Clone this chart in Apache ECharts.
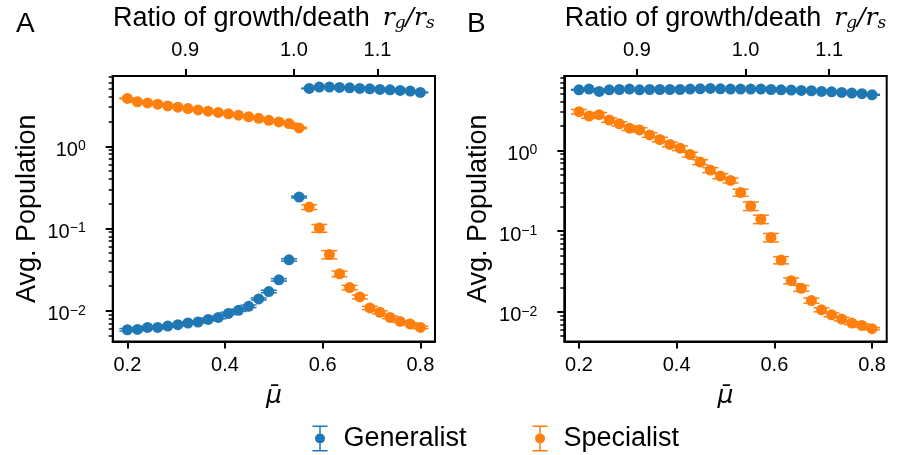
<!DOCTYPE html>
<html>
<head>
<meta charset="utf-8">
<script src="https://cdn.jsdelivr.net/npm/echarts@6/dist/echarts.min.js"></script>
<style>
  html, body { margin: 0; padding: 0; background: #fff; }
  #chart { width: 902px; height: 455px; }
</style>
</head>
<body>
<div id="chart"></div>
<script>
// Mean mutation rate values (bottom axis)
const mu = [0.2, 0.2207, 0.2414, 0.2621, 0.2828, 0.3034, 0.3241, 0.3448, 0.3655, 0.3862,
            0.4069, 0.4276, 0.4483, 0.4690, 0.4897, 0.5103, 0.5310, 0.5517, 0.5724, 0.5931,
            0.6138, 0.6345, 0.6552, 0.6759, 0.6966, 0.7172, 0.7379, 0.7586, 0.7793, 0.8];

// Panel A: average populations and their errors
const genA = [0.00586, 0.00592, 0.00625, 0.00625, 0.0065, 0.00675, 0.00708, 0.00728, 0.00783, 0.00828,
              0.00927, 0.0101, 0.0113, 0.0139, 0.0171, 0.0237, 0.0415, 0.241, 5.06, 5.25,
              5.25, 5.20, 5.14, 5.06, 5.00, 4.91, 4.86, 4.78, 4.69, 4.52];
const genAErr = [0.0002, 0.0002, 0.0002, 0.0002, 0.0002, 0.0002, 0.0002, 0.0002, 0.0003, 0.0003,
                 0.0003, 0.0003, 0.0004, 0.0004, 0.0006, 0.0008, 0.0014, 0.006, 0.05, 0.05,
                 0.05, 0.05, 0.05, 0.05, 0.05, 0.05, 0.05, 0.05, 0.05, 0.05];
const specA = [3.82, 3.47, 3.37, 3.25, 3.10, 2.99, 2.88, 2.77, 2.67, 2.58,
               2.48, 2.39, 2.28, 2.19, 2.07, 1.98, 1.89, 1.67, 0.182, 0.101,
               0.0482, 0.0281, 0.0191, 0.0147, 0.0108, 0.00955, 0.00828, 0.00741, 0.00688, 0.00625];
const specAErr = [0.04, 0.03, 0.03, 0.03, 0.03, 0.03, 0.03, 0.03, 0.03, 0.03,
                  0.03, 0.03, 0.03, 0.03, 0.03, 0.03, 0.03, 0.03, 0.012, 0.011,
                  0.0055, 0.0022, 0.0012, 0.0008, 0.0005, 0.0004, 0.0003, 0.0002, 0.0002, 0.0002];

// Panel B: average populations and their errors
const genB = [5.66, 5.78, 5.40, 5.66, 5.71, 5.78, 5.66, 5.71, 5.71, 5.71,
              5.71, 5.78, 5.83, 5.88, 5.83, 5.78, 5.78, 5.78, 5.78, 5.71,
              5.66, 5.61, 5.56, 5.51, 5.40, 5.35, 5.25, 5.15, 5.06, 4.91];
const genBErr = [0.06, 0.06, 0.06, 0.06, 0.06, 0.06, 0.06, 0.06, 0.06, 0.06,
                 0.06, 0.06, 0.06, 0.06, 0.06, 0.06, 0.06, 0.06, 0.06, 0.06,
                 0.06, 0.06, 0.06, 0.06, 0.06, 0.06, 0.06, 0.06, 0.06, 0.06];
const specB = [3.03, 2.68, 2.78, 2.39, 2.14, 1.89, 1.80, 1.56, 1.37, 1.19,
               1.07, 0.892, 0.718, 0.572, 0.482, 0.426, 0.301, 0.205, 0.141, 0.0836,
               0.0438, 0.0243, 0.0196, 0.0138, 0.0106, 0.00919, 0.00813, 0.00725, 0.00677, 0.00617];
const specBErr = [0.2, 0.17, 0.18, 0.15, 0.13, 0.12, 0.11, 0.1, 0.09, 0.08,
                  0.07, 0.06, 0.05, 0.04, 0.035, 0.03, 0.03, 0.025, 0.017, 0.01,
                  0.0045, 0.002, 0.0016, 0.001, 0.0006, 0.0005, 0.0004, 0.0003, 0.0003, 0.0002];

// Tick labels
const bottomTicks = [0.2, 0.4, 0.6, 0.8];
const ratioTickLabels = ['0.9', '1.0', '1.1'];
const ratioTickAtMu = [0.3186, 0.5410, 0.7122];   // where each growth/death ratio falls on the mu axis
const decadeTicks = [-2, -1, 0];                   // log10 of 1e-2, 1e-1, 1e0

const BLUE = '#1f77b4';
const ORANGE = '#ff7f0e';
const FONT = '"Liberation Sans", Arial, Helvetica, sans-serif';

const chart = echarts.init(document.getElementById('chart'), null, { renderer: 'canvas' });

// log-scale y is drawn on a value axis holding log10 of the population
const lg = v => Math.log10(v);

function minorTicks(lo, hi) {
  const out = [];
  for (let n = -4; n <= 1; n++) {
    for (let k = 2; k <= 9; k++) {
      const t = n + Math.log10(k);
      if (t >= lo && t <= hi) out.push(t);
    }
  }
  return out;
}

function scatterData(vals) { return mu.map((m, i) => [m, lg(vals[i])]); }
function errData(vals, errs) { return mu.map((m, i) => [m, lg(vals[i] - errs[i]), lg(vals[i] + errs[i])]); }

function errRender(color) {
  return function (params, api) {
    const x = api.value(0);
    const lo = api.coord([x, api.value(1)]);
    const hi = api.coord([x, api.value(2)]);
    const half = 8;
    const style = { stroke: color, lineWidth: 1.5 };
    return {
      type: 'group',
      children: [
        { type: 'line', shape: { x1: lo[0], y1: lo[1], x2: hi[0], y2: hi[1] }, style },
        { type: 'line', shape: { x1: lo[0] - half, y1: lo[1], x2: lo[0] + half, y2: lo[1] }, style },
        { type: 'line', shape: { x1: hi[0] - half, y1: hi[1], x2: hi[0] + half, y2: hi[1] }, style }
      ]
    };
  };
}

const grids = [
  { left: 112.7, top: 75.5, width: 322.3, height: 266, yMin: -2.375, yMax: 0.855 },
  { left: 564.3, top: 75.5, width: 322.4, height: 266, yMin: -2.368, yMax: 0.924 }
];

const axisLineStyle = { color: '#000', width: 2 };
const tickLabelStyle = { color: '#000', fontSize: 20, fontFamily: FONT };
const legendIcon = 'path://M0 0H15V1.5H0Z M6.75 0H8.25V26H6.75Z M0 24.5H15V26H0Z M2.5 13A5 5 0 1 1 12.5 13A5 5 0 1 1 2.5 13Z';

const option = {
  animation: false,
  backgroundColor: '#fff',
  title: [
    { text: 'A', left: 11, top: 5, textStyle: { fontSize: 28, fontWeight: 'normal', color: '#000', fontFamily: FONT } },
    { text: 'B', left: 462, top: 5, textStyle: { fontSize: 28, fontWeight: 'normal', color: '#000', fontFamily: FONT } }
  ],
  grid: grids.map(g => ({ left: g.left, top: g.top, width: g.width, height: g.height,
                          show: true, borderColor: '#000', borderWidth: 2, backgroundColor: 'transparent' })),
  legend: {
    left: 307.5, top: 420,
    itemWidth: 15, itemHeight: 26, itemGap: 66,
    selectedMode: false,
    textStyle: { color: '#000', fontSize: 27, fontFamily: FONT, padding: [0, 0, 0, 11] },
    data: [
      { name: 'Generalist', icon: legendIcon },
      { name: 'Specialist', icon: legendIcon }
    ]
  },
  xAxis: [],
  yAxis: [],
  series: []
};

grids.forEach((g, gi) => {
  // bottom mu axis
  option.xAxis.push({
    type: 'value', gridIndex: gi, position: 'bottom', min: 0.17, max: 0.83,
    name: 'μ̄', nameLocation: 'middle', nameGap: 42,
    nameTextStyle: { color: '#000', fontSize: 25, fontStyle: 'italic', fontFamily: '"DejaVu Sans", sans-serif' },
    axisLine: { show: true, onZero: false, lineStyle: axisLineStyle },
    axisTick: { show: true, length: 7, lineStyle: { color: '#000', width: 2 }, customValues: bottomTicks },
    axisLabel: { show: true, margin: 14, customValues: bottomTicks, formatter: v => v.toFixed(1), ...tickLabelStyle },
    splitLine: { show: false }
  });
  // top growth/death ratio axis
  option.xAxis.push({
    type: 'value', gridIndex: gi, position: 'top', min: 0.17, max: 0.83,
    name: '{t|Ratio of growth/death}{sp| }{m|r}{sub|g}{m|/r}{sub|s}',
    nameLocation: 'middle', nameGap: 44,
    nameTextStyle: {
      rich: {
        t: { fontSize: 27, color: '#000', fontFamily: FONT },
        sp: { fontSize: 27, width: 13 },
        m: { fontSize: 25, color: '#000', fontStyle: 'italic', fontFamily: '"DejaVu Serif", "Liberation Serif", serif' },
        sub: { fontSize: 17, color: '#000', fontStyle: 'italic', fontFamily: '"DejaVu Serif", "Liberation Serif", serif', padding: [10, 0, 0, 0] }
      }
    },
    axisLine: { show: true, onZero: false, lineStyle: axisLineStyle },
    axisTick: { show: true, length: 7, lineStyle: { color: '#000', width: 2 }, customValues: ratioTickAtMu },
    axisLabel: { show: true, margin: 16, customValues: ratioTickAtMu,
                 formatter: v => ratioTickLabels[ratioTickAtMu.indexOf(v)], ...tickLabelStyle },
    splitLine: { show: false }
  });
  // main log axis (decades)
  option.yAxis.push({
    type: 'value', gridIndex: gi, position: 'left', min: g.yMin, max: g.yMax,
    name: 'Avg. Population', nameLocation: 'middle', nameGap: 72, nameRotate: 90,
    nameTextStyle: { color: '#000', fontSize: 27, fontFamily: FONT },
    axisLine: { show: true, onZero: false, lineStyle: axisLineStyle },
    axisTick: { show: true, length: 7, lineStyle: { color: '#000', width: 2 }, customValues: decadeTicks },
    axisLabel: {
      show: true, margin: 27, customValues: decadeTicks,
      formatter: v => '{b|10}{s|' + (v === 0 ? '0' : '\u2212' + (-v)) + '}',
      rich: {
        b: { fontSize: 20, lineHeight: 22, padding: [8, 0, 0, 0], color: '#000', fontFamily: FONT },
        s: { fontSize: 14, lineHeight: 14, color: '#000', fontFamily: FONT }
      }
    },
    splitLine: { show: false }
  });
  // minor log ticks
  option.yAxis.push({
    type: 'value', gridIndex: gi, position: 'left', min: g.yMin, max: g.yMax,
    axisLine: { show: false },
    axisTick: { show: true, length: 4, lineStyle: { color: '#000', width: 1.5 }, customValues: minorTicks(g.yMin, g.yMax) },
    axisLabel: { show: false },
    splitLine: { show: false }
  });
});

const panels = [
  { gen: genA, genErr: genAErr, spec: specA, specErr: specAErr },
  { gen: genB, genErr: genBErr, spec: specB, specErr: specBErr }
];

panels.forEach((p, pi) => {
  const xi = pi * 2, yi = pi * 2;
  option.series.push(
    { name: 'Generalist', type: 'custom', xAxisIndex: xi, yAxisIndex: yi, itemStyle: { color: BLUE },
      renderItem: errRender(BLUE), data: errData(p.gen, p.genErr), z: 2 },
    { name: 'Generalist', type: 'scatter', xAxisIndex: xi, yAxisIndex: yi, symbolSize: 11,
      itemStyle: { color: BLUE, opacity: 1 }, data: scatterData(p.gen), z: 3 },
    { name: 'Specialist', type: 'custom', xAxisIndex: xi, yAxisIndex: yi, itemStyle: { color: ORANGE },
      renderItem: errRender(ORANGE), data: errData(p.spec, p.specErr), z: 4 },
    { name: 'Specialist', type: 'scatter', xAxisIndex: xi, yAxisIndex: yi, symbolSize: 11,
      itemStyle: { color: ORANGE, opacity: 1 }, data: scatterData(p.spec), z: 5 }
  );
});

chart.setOption(option);
</script>
</body>
</html>
